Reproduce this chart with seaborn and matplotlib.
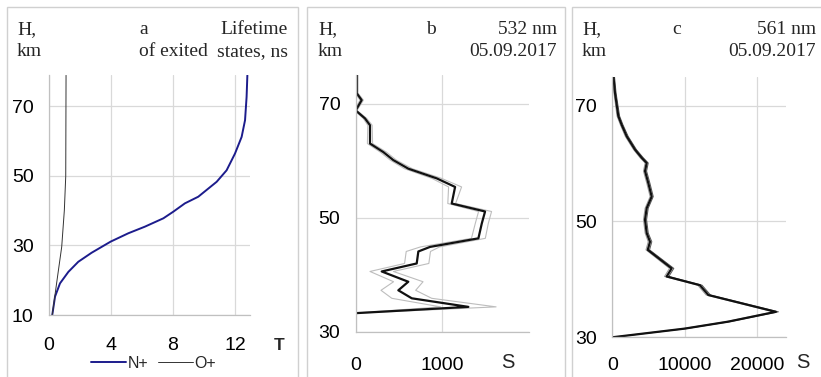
import numpy as np
import pandas as pd
import seaborn as sns
import matplotlib
matplotlib.use('Agg')
import matplotlib.pyplot as plt
from matplotlib.patches import Rectangle

# panel a - lifetime of excited states
a_h_n = [10, 15.3, 19.1, 22.4, 25.3, 27.9, 31.1, 33.5, 35.4, 37.8, 39.7, 42.1, 44.0, 48.3, 51.6, 56.4, 61.2, 66.0, 72.7, 78.9]
a_t_n = [0.21, 0.39, 0.71, 1.25, 1.89, 2.75, 3.98, 5.12, 6.19, 7.38, 8.02, 8.77, 9.63, 10.82, 11.46, 12.0, 12.43, 12.65, 12.75, 12.8]
a_h_o = [10, 19.1, 29.6, 40.1, 49.9, 78.9]
a_t_o = [0.21, 0.49, 0.82, 0.99, 1.08, 1.1]

# panel b - 532 nm
b_h = [75, 71.8, 70.6, 68.8, 67.4, 66.2, 63.0, 61.5, 60.1, 58.6, 56.9, 55.4, 52.5, 51.1, 49.0, 46.4,
       44.9, 44.1, 42.0, 40.6, 38.8, 37.3, 35.9, 34.4, 33.3]
b_s = [12, 12, 69, 0, 107, 165, 165, 319, 434, 607, 935, 1147, 1108, 1493, 1455, 1416,
       858, 723, 704, 300, 607, 492, 647, 1300, 0]
b_err = [15, 15, 20, 15, 20, 25, 30, 35, 35, 45, 55, 75, 45, 75, 75, 80,
         110, 140, 140, 135, 170, 200, 230, 320, 20]

# panel c - 561 nm
c_h = [75.1, 72.2, 68.2, 66.7, 64.7, 62.4, 61.0, 60.1, 58.7, 56.6, 54.3, 52.3, 50.3, 48.0, 46.5, 45.1,
       41.9, 40.5, 39.0, 37.3, 34.4, 32.7, 31.5, 30.0]
c_s = [150, 370, 830, 1290, 1990, 3140, 4060, 4750, 4520, 4980, 5440, 4750, 4520, 4750, 5210, 4900,
       8200, 7510, 12100, 13270, 22600, 16000, 10000, 0]
c_err = [150, 150, 180, 180, 200, 200, 220, 220, 220, 220, 220, 220, 220, 220, 250, 250,
         300, 300, 300, 300, 350, 300, 250, 100]

sns.set_style('white')
plt.rcParams['font.family'] = ['Liberation Sans', 'DejaVu Sans']

W, H = 821, 377
fig = plt.figure(figsize=(W / 100, H / 100), dpi=100)

def axes_px(left, top, right, bottom):
    return fig.add_axes([left / W, 1 - bottom / H, (right - left) / W, (bottom - top) / H])

grid_c = '#d9d9d9'
spine_c = '#c0c0c0'

def style(ax, xpad, ypad):
    sns.despine(ax=ax)
    for s in ['left', 'bottom']:
        ax.spines[s].set_color(spine_c)
        ax.spines[s].set_linewidth(0.9)
    ax.grid(True, which='major', color=grid_c, linewidth=0.9)
    ax.tick_params(which='major', length=0, labelsize=14, colors='black')
    ax.tick_params(axis='x', which='major', pad=xpad)
    ax.tick_params(axis='y', which='major', pad=ypad)
    ax.tick_params(which='minor', direction='in', length=4, color=spine_c, width=0.8)
    ax.set_xlabel('')
    ax.set_ylabel('')

# panel borders
for x0, x1 in [(7, 298), (307, 565), (572, 830)]:
    fig.add_artist(Rectangle((x0 / W, -0.05), (x1 - x0) / W, 1.05 - 7 / H,
                             transform=fig.transFigure, fill=False,
                             edgecolor='#d0d0d0', linewidth=1.0))

# ---- panel a ----
ax1 = axes_px(49, 75, 250, 315)
sns.lineplot(x=a_t_n, y=a_h_n, sort=False, estimator=None, color='#1c1c8c', linewidth=1.4, label='N+', ax=ax1)
sns.lineplot(x=a_t_o, y=a_h_o, sort=False, estimator=None, color='#333333', linewidth=0.7, label='O+', ax=ax1)
ax1.set_xlim(0, 12.97)
ax1.set_ylim(10, 79)
ax1.set_xticks([0, 4, 8, 12])
ax1.set_yticks([10, 30, 50, 70])
style(ax1, 16, 11)
ax1.legend(loc='center', bbox_to_anchor=(0.52, -0.2), ncol=2, frameon=False,
           fontsize=11.5, handlelength=2.2, handletextpad=0.1, columnspacing=0.6,
           borderpad=0, borderaxespad=0)

# ---- panel b ----
ax2 = axes_px(355.7, 75, 529, 332)
b_lo = np.array(b_s) - np.array(b_err)
b_hi = np.array(b_s) + np.array(b_err)
sns.lineplot(x=b_lo, y=b_h, sort=False, estimator=None, color='#bdbdbd', linewidth=0.8, ax=ax2)
sns.lineplot(x=b_hi, y=b_h, sort=False, estimator=None, color='#bdbdbd', linewidth=0.8, ax=ax2)
sns.lineplot(x=b_s, y=b_h, sort=False, estimator=None, color='#111111', linewidth=1.6, ax=ax2)
ax2.set_xlim(0, 2000)
ax2.set_ylim(30, 75)
ax2.set_xticks([0, 1000])
ax2.set_xticks([500, 1500], minor=True)
ax2.set_yticks([30, 50, 70])
ax2.set_yticks([40, 60], minor=True)
style(ax2, 18, 11)

# ---- panel c ----
ax3 = axes_px(612.3, 76.7, 786, 337.3)
c_lo = np.array(c_s) - np.array(c_err)
c_hi = np.array(c_s) + np.array(c_err)
sns.lineplot(x=c_lo, y=c_h, sort=False, estimator=None, color='#9a9a9a', linewidth=0.7, ax=ax3)
sns.lineplot(x=c_hi, y=c_h, sort=False, estimator=None, color='#555555', linewidth=0.7, ax=ax3)
sns.lineplot(x=c_s, y=c_h, sort=False, estimator=None, color='#111111', linewidth=1.6, ax=ax3)
ax3.set_xlim(0, 24000)
ax3.set_ylim(30, 75)
ax3.set_xticks([0, 10000, 20000])
ax3.set_xticks([5000, 15000], minor=True)
ax3.set_yticks([30, 50, 70])
ax3.set_yticks([35, 40, 45, 55, 60, 65], minor=True)
style(ax3, 14, 11)

# axis name labels
fig.text(279 / W, 1 - 345 / H, 'T', fontsize=12.5, fontweight='bold', ha='center', va='center')
fig.text(508 / W, 1 - 362 / H, 'S', fontsize=14.5, ha='center', va='center')
fig.text(803 / W, 1 - 363 / H, 'S', fontsize=14.5, ha='center', va='center')

# header texts (serif)
serif = dict(family=['Liberation Serif', 'DejaVu Serif'], fontsize=14)
def htext(x, y, s, ha='left'):
    fig.text(x / W, 1 - y / H, s, ha=ha, va='baseline', **serif)

htext(17, 34, 'H,')
htext(17, 56, 'km')
htext(139, 34, 'a')
htext(139, 56, 'of exited')
htext(288, 34, 'Lifetime', ha='right')
htext(288, 56, 'states, ns', ha='right')

htext(318, 34, 'H,')
htext(318, 56, 'km')
htext(426, 34, 'b')
htext(557, 34, '532 nm', ha='right')
htext(557, 56, '05.09.2017', ha='right')

htext(582, 34, 'H,')
htext(582, 56, 'km')
htext(672, 34, 'c')
htext(816, 34, '561 nm', ha='right')
htext(816, 56, '05.09.2017', ha='right')

fig.savefig('out.png', dpi=100)
